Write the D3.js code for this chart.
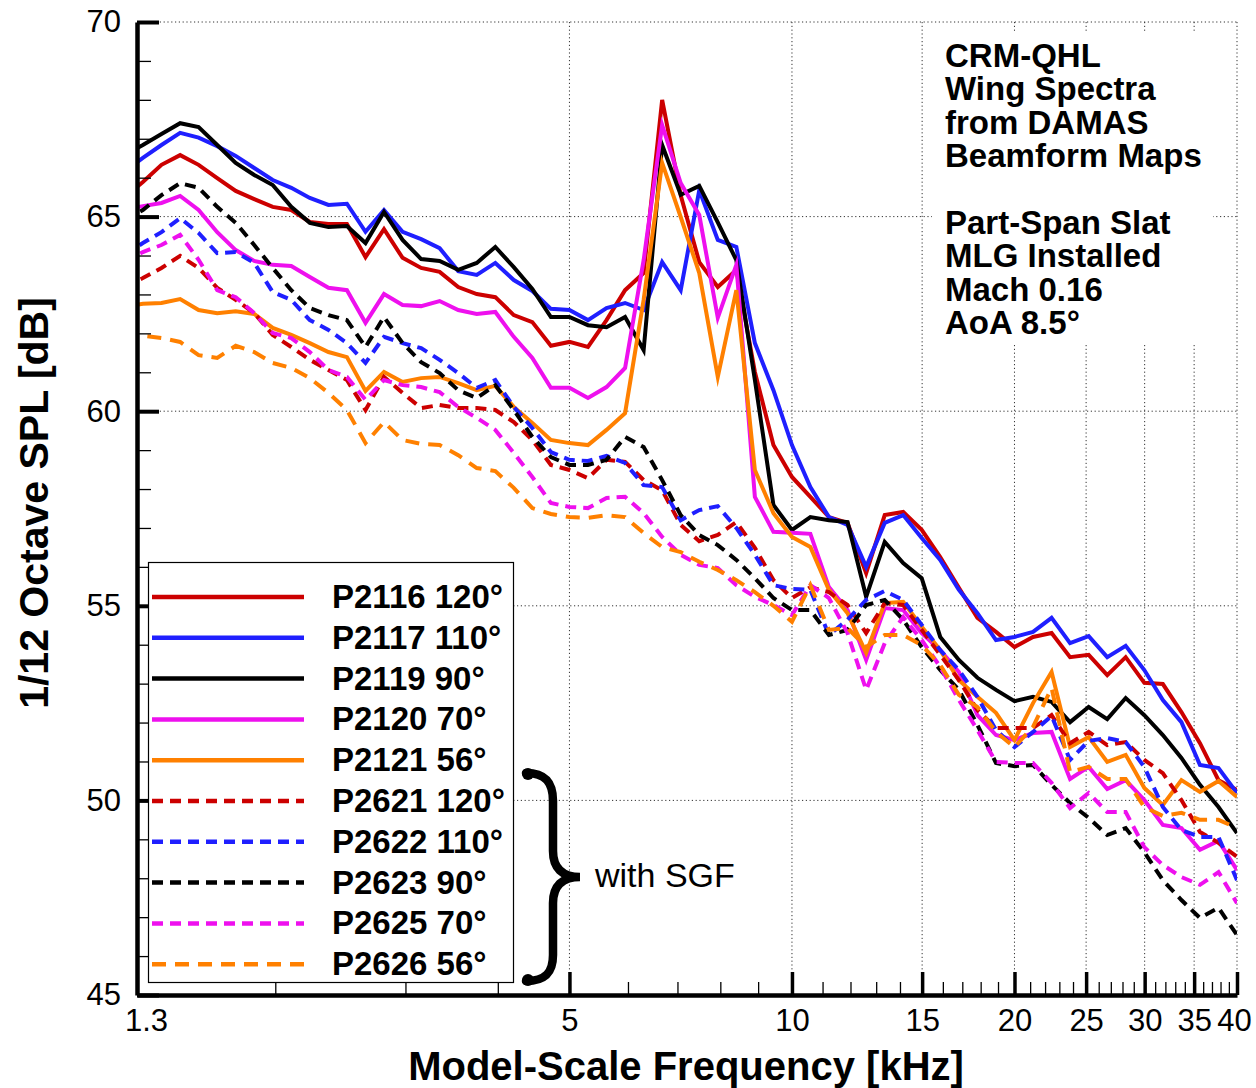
<!DOCTYPE html>
<html>
<head>
<meta charset="utf-8">
<script src="https://cdn.jsdelivr.net/npm/d3@7"></script>
<style>
  html, body { margin: 0; padding: 0; background: #fff; }
  svg { display: block; font-family: "Liberation Sans", Arial, Helvetica, sans-serif; }
</style>
</head>
<body>
<svg id="chart" width="1256" height="1088"></svg>
<script>
// 1/12-octave band centre frequencies [kHz]
const freqKHz = [
  1.25, 1.324, 1.403, 1.487, 1.575, 1.669, 1.768, 1.873, 1.984, 2.102, 2.227, 2.360,
  2.5, 2.649, 2.806, 2.973, 3.150, 3.337, 3.536, 3.746, 3.969, 4.204, 4.454, 4.719,
  5.0, 5.297, 5.612, 5.946, 6.300, 6.674, 7.071, 7.492, 7.937, 8.409, 8.909, 9.439,
  10.0, 10.59, 11.22, 11.89, 12.60, 13.35, 14.14, 14.98, 15.87, 16.82, 17.82, 18.88,
  20.0, 21.19, 22.45, 23.78, 25.20, 26.70, 28.28, 29.97, 31.75, 33.64, 35.64, 37.76,
  40.0
];

// Band levels, 1/12 octave SPL [dB]
const p2116 = [
  65.50, 65.89, 66.33, 66.58, 66.33, 65.99, 65.66, 65.45, 65.25, 65.17, 64.86, 64.81,
  64.81, 63.96, 64.68, 63.94, 63.68, 63.58, 63.19, 63.01, 62.93, 62.47, 62.29, 61.68,
  61.78, 61.65, 62.34, 63.11, 63.55, 68.00, 65.55, 63.83, 63.19, 63.63, 61.01, 59.13,
  58.31, 57.80, 57.28, 57.13, 55.84, 57.33, 57.41, 56.95, 56.25, 55.46, 54.69, 54.33,
  53.94, 54.20, 54.30, 53.68, 53.74, 53.22, 53.68, 53.02, 52.99, 52.27, 51.47, 50.52,
  50.27
];
const p2117 = [
  66.15, 66.51, 66.84, 67.15, 67.03, 66.81, 66.56, 66.25, 65.94, 65.74, 65.48, 65.30,
  65.33, 64.61, 65.17, 64.61, 64.42, 64.19, 63.60, 63.50, 63.81, 63.37, 63.09, 62.63,
  62.60, 62.34, 62.65, 62.78, 62.60, 63.83, 63.11, 65.68, 64.40, 64.22, 61.75, 60.54,
  59.13, 58.05, 57.28, 57.08, 56.00, 57.13, 57.33, 56.74, 56.18, 55.41, 54.81, 54.12,
  54.20, 54.33, 54.69, 54.04, 54.22, 53.68, 53.97, 53.35, 52.58, 52.01, 50.91, 50.83,
  50.19
];
const p2119 = [
  66.58, 66.84, 67.12, 67.40, 67.30, 66.84, 66.38, 66.07, 65.81, 65.25, 64.84, 64.73,
  64.76, 64.32, 65.12, 64.40, 63.91, 63.86, 63.63, 63.81, 64.22, 63.70, 63.14, 62.42,
  62.42, 62.21, 62.16, 62.42, 61.57, 66.84, 65.56, 65.79, 64.85, 63.88, 60.80, 57.59,
  56.95, 57.28, 57.20, 57.15, 55.23, 56.64, 56.10, 55.71, 54.20, 53.61, 53.15, 52.84,
  52.55, 52.66, 52.53, 52.01, 52.40, 52.09, 52.63, 52.19, 51.68, 51.09, 50.40, 49.83,
  49.16
];
const p2120 = [
  65.17, 65.27, 65.35, 65.53, 65.17, 64.60, 64.14, 63.86, 63.76, 63.73, 63.45, 63.17,
  63.11, 62.27, 63.01, 62.73, 62.70, 62.83, 62.60, 62.50, 62.55, 61.91, 61.37, 60.60,
  60.60, 60.34, 60.62, 61.11, 63.88, 67.35, 65.86, 65.04, 62.40, 63.76, 57.80, 56.90,
  56.88, 56.85, 55.48, 54.89, 53.61, 54.94, 54.89, 54.30, 53.86, 53.30, 52.19, 51.68,
  51.55, 51.73, 51.76, 50.55, 50.86, 50.29, 50.52, 50.01, 49.37, 49.29, 48.73, 48.96,
  48.21
];
const p2121 = [
  62.68, 62.76, 62.78, 62.88, 62.60, 62.52, 62.57, 62.50, 62.14, 61.96, 61.75, 61.52,
  61.39, 60.52, 61.01, 60.75, 60.85, 60.88, 60.72, 60.54, 60.65, 60.11, 59.70, 59.26,
  59.18, 59.13, 59.52, 59.95, 62.86, 66.38, 64.99, 63.55, 60.88, 63.11, 58.49, 57.38,
  56.77, 56.51, 55.41, 54.81, 53.79, 55.07, 55.10, 54.46, 53.86, 53.09, 52.66, 52.25,
  51.55, 52.50, 53.30, 51.37, 51.63, 50.99, 51.17, 50.32, 49.88, 50.52, 50.22, 50.50,
  50.09
];
const p2621 = [
  63.19, 63.42, 63.68, 63.99, 63.68, 63.17, 62.86, 62.52, 61.96, 61.65, 61.32, 61.06,
  60.80, 60.03, 60.88, 60.47, 60.08, 60.16, 60.08, 60.08, 60.03, 59.72, 59.26, 58.62,
  58.49, 58.28, 58.75, 58.70, 58.23, 57.97, 57.08, 56.66, 56.82, 57.15, 56.49, 55.66,
  55.20, 55.48, 55.35, 55.02, 54.30, 55.07, 55.02, 54.38, 53.74, 53.09, 52.32, 51.86,
  51.86, 51.86, 52.19, 51.47, 51.76, 51.42, 51.50, 51.04, 50.70, 50.01, 49.19, 48.91,
  48.55
];
const p2622 = [
  64.01, 64.32, 64.60, 64.96, 64.58, 64.06, 64.09, 63.81, 63.06, 62.86, 62.34, 62.09,
  61.75, 61.24, 61.91, 61.75, 61.62, 61.32, 60.98, 60.60, 60.80, 60.11, 59.57, 58.95,
  58.75, 58.72, 58.85, 58.67, 58.10, 58.05, 57.20, 57.46, 57.56, 57.00, 56.31, 55.53,
  55.43, 55.41, 54.25, 54.64, 55.15, 55.38, 55.15, 54.51, 53.86, 53.35, 52.66, 51.81,
  51.37, 51.76, 52.17, 51.04, 51.53, 51.60, 51.50, 50.86, 49.83, 49.24, 49.06, 49.06,
  47.95
];
const p2623 = [
  64.91, 65.17, 65.55, 65.86, 65.74, 65.25, 64.84, 64.27, 63.68, 63.11, 62.65, 62.47,
  62.34, 61.65, 62.42, 61.75, 61.26, 60.98, 60.54, 60.34, 60.67, 60.03, 59.34, 58.82,
  58.62, 58.62, 58.75, 59.34, 59.08, 58.23, 57.33, 56.82, 56.56, 56.18, 55.71, 55.20,
  54.89, 54.89, 54.25, 54.38, 55.02, 55.15, 54.64, 53.94, 53.35, 52.84, 51.94, 50.96,
  50.88, 50.91, 50.40, 49.93, 49.55, 49.11, 49.29, 48.67, 47.95, 47.44, 46.98, 47.24,
  46.54
];
const p2625 = [
  63.83, 64.09, 64.27, 64.53, 63.89, 63.11, 62.93, 62.52, 62.01, 61.88, 61.52, 61.06,
  60.88, 60.29, 60.80, 60.67, 60.62, 60.49, 60.11, 59.83, 59.52, 58.93, 58.31, 57.64,
  57.54, 57.51, 57.77, 57.80, 57.38, 56.77, 56.31, 56.05, 55.97, 55.53, 55.23, 55.02,
  54.76, 55.53, 55.20, 54.30, 52.84, 54.04, 54.71, 54.12, 53.43, 52.58, 51.81, 50.99,
  50.96, 50.96, 50.45, 49.80, 50.19, 49.70, 49.70, 48.80, 48.34, 48.03, 47.83, 48.16,
  47.36
];
const p2626 = [
  61.96, 61.94, 61.88, 61.78, 61.44, 61.37, 61.68, 61.52, 61.24, 61.11, 60.85, 60.47,
  60.03, 59.18, 59.72, 59.26, 59.16, 59.13, 58.87, 58.54, 58.46, 58.03, 57.51, 57.36,
  57.28, 57.26, 57.33, 57.28, 56.87, 56.51, 56.38, 56.13, 55.92, 55.66, 55.35, 55.00,
  54.59, 55.53, 54.38, 54.43, 53.94, 54.25, 54.25, 53.99, 53.48, 52.71, 52.40, 51.76,
  51.37, 51.89, 52.89, 50.73, 50.86, 50.55, 50.55, 49.83, 49.60, 49.68, 49.50, 49.50,
  49.29
];

const seriesLabels = [
  "P2116 120°", "P2117 110°", "P2119 90°", "P2120 70°", "P2121 56°",
  "P2621 120°", "P2622 110°", "P2623 90°", "P2625 70°", "P2626 56°"
];

// Axis ticks and labels
const yMajorTicks = [45, 50, 55, 60, 65, 70];
const yMinorTicks = d3.range(46, 70).filter(v => v % 5 !== 0);
const xLabelTicks = [1.3, 5, 10, 15, 20, 25, 30, 35, 40];
const xTickLabels = ["1.3", "5", "10", "15", "20", "25", "30", "35", "40"];
const xMajorTicks = [5, 10, 15, 20, 25, 30, 35, 40];
const xMinorTicks = [2, 3, 4, 6, 7, 8, 9, 11, 12, 13, 14, 16, 17, 18, 19,
  21, 22, 23, 24, 26, 27, 28, 29, 31, 32, 33, 34, 36, 37, 38, 39];
const yGridValues = [50, 55, 60, 65, 70];
const xGridValues = [5, 10, 15, 20, 25, 30, 35, 40];

const infoLines = ["CRM-QHL", "Wing Spectra", "from DAMAS", "Beamform Maps", "",
  "Part-Span Slat", "MLG Installed", "Mach 0.16", "AoA 8.5°"];

// ---- drawing ----
const svg = d3.select("#chart");
const x = d3.scaleLog().domain([1.3, 40]).range([137, 1237]);
const y = d3.scaleLinear().domain([45, 70]).range([995, 22]);

const seriesData = [p2116, p2117, p2119, p2120, p2121, p2621, p2622, p2623, p2625, p2626];
const styles = [
  { color: "#cc0000", dash: null },
  { color: "#1f1fff", dash: null },
  { color: "#000000", dash: null },
  { color: "#ee10ee", dash: null },
  { color: "#ff8000", dash: null },
  { color: "#cc0000", dash: "11,7" },
  { color: "#1f1fff", dash: "11,7" },
  { color: "#000000", dash: "11,7" },
  { color: "#ee10ee", dash: "11,7" },
  { color: "#ff8000", dash: "14,9" }
];

svg.append("defs").append("clipPath").attr("id", "plotClip")
  .append("rect")
  .attr("x", x(1.3)).attr("y", y(70))
  .attr("width", x(40) - x(1.3)).attr("height", y(45) - y(70));

// dotted grid
const grid = svg.append("g").attr("stroke", "#333").attr("stroke-width", 1)
  .attr("stroke-dasharray", "1.2,2.6");
grid.selectAll("line.gh").data(yGridValues).join("line")
  .attr("x1", x(1.3)).attr("x2", x(40))
  .attr("y1", d => y(d)).attr("y2", d => y(d));
grid.selectAll("line.gv").data(xGridValues).join("line")
  .attr("x1", d => x(d)).attr("x2", d => x(d))
  .attr("y1", y(70)).attr("y2", y(45));

// annotation block (white background hides grid behind it)
svg.append("rect").attr("x", 932).attr("y", 33).attr("width", 281).attr("height", 312)
  .attr("fill", "#fff");
svg.append("g").selectAll("text").data(infoLines).join("text")
  .attr("x", 945)
  .attr("y", (d, i) => 67 + i * 33.4)
  .attr("font-size", 33).attr("font-weight", "bold").attr("fill", "#000")
  .text(d => d);

// spectra
const line = d3.line().x(d => x(d[0])).y(d => y(d[1]));
const plot = svg.append("g").attr("clip-path", "url(#plotClip)");
seriesData.forEach((vals, i) => {
  plot.append("path")
    .datum(freqKHz.map((f, j) => [f, vals[j]]))
    .attr("d", line)
    .attr("fill", "none")
    .attr("stroke", styles[i].color)
    .attr("stroke-width", 4)
    .attr("stroke-linejoin", "miter")
    .attr("stroke-miterlimit", 6)
    .attr("stroke-dasharray", styles[i].dash);
});

// axes
const yMinor = svg.append("g").attr("transform", `translate(${x(1.3)},0)`)
  .call(d3.axisLeft(y).tickValues(yMinorTicks).tickSize(-14).tickFormat(""));
yMinor.select(".domain").remove();
yMinor.selectAll("line").attr("stroke-width", 1.3);

const yMajor = svg.append("g").attr("transform", `translate(${x(1.3)},0)`)
  .call(d3.axisLeft(y).tickValues(yMajorTicks).tickSize(-22).tickSizeOuter(0)
    .tickPadding(16).tickFormat(d3.format("d")));
yMajor.select(".domain").attr("stroke-width", 4.5);
yMajor.selectAll(".tick line").attr("stroke-width", 4);
yMajor.selectAll(".tick text").attr("font-size", 31).attr("font-family", null).attr("fill", "#000");

const xMinor = svg.append("g").attr("transform", `translate(0,${y(45)})`)
  .call(d3.axisBottom(x).tickValues(xMinorTicks).tickSize(-13).tickFormat(""));
xMinor.select(".domain").remove();
xMinor.selectAll("line").attr("stroke-width", 1.3);

const xMajor = svg.append("g").attr("transform", `translate(0,${y(45)})`)
  .call(d3.axisBottom(x).tickValues(xLabelTicks).tickSize(-23).tickSizeOuter(0)
    .tickPadding(14).tickFormat((d, i) => xTickLabels[i]));
xMajor.select(".domain").attr("stroke-width", 4.5);
xMajor.selectAll(".tick line").attr("stroke-width", 3.5)
  .attr("display", d => d === 1.3 ? "none" : null);
xMajor.selectAll(".tick text").attr("font-size", 31).attr("font-family", null).attr("fill", "#000")
  .attr("dx", d => d === 1.3 ? 9 : (d === 40 ? -3 : 0));

// axis titles
svg.append("text")
  .attr("x", 686).attr("y", 1080)
  .attr("text-anchor", "middle").attr("font-size", 40).attr("font-weight", "bold")
  .text("Model-Scale Frequency [kHz]");
svg.append("text")
  .attr("transform", "translate(48,503) rotate(-90)")
  .attr("text-anchor", "middle").attr("font-size", 41).attr("font-weight", "bold")
  .text("1/12 Octave SPL [dB]");

// legend
const legend = svg.append("g");
legend.append("rect").attr("x", 148.5).attr("y", 562.5).attr("width", 365).attr("height", 420)
  .attr("fill", "#fff").attr("stroke", "#000").attr("stroke-width", 1.2);
const rows = legend.selectAll("g.row").data(seriesLabels).join("g")
  .attr("transform", (d, i) => `translate(0,${597 + i * 40.8})`);
rows.append("line")
  .attr("x1", 152).attr("x2", 304).attr("y1", 0).attr("y2", 0)
  .attr("stroke", (d, i) => styles[i].color)
  .attr("stroke-width", 4.5)
  .attr("stroke-dasharray", (d, i) => styles[i].dash);
rows.append("text")
  .attr("x", 332).attr("y", 11)
  .attr("font-size", 33).attr("font-weight", "bold")
  .text(d => d);

// brace grouping the SGF cases
svg.append("path")
  .attr("d", "M526,773 C546,773 553,783 553,801 L553,851 C553,868 562,877 580,877 C562,877 553,886 553,903 L553,955 C553,972 546,981 526,981")
  .attr("fill", "none").attr("stroke", "#000").attr("stroke-width", 8.5)
  .attr("stroke-linecap", "round");
svg.append("circle").attr("cx", 528).attr("cy", 774).attr("r", 6).attr("fill", "#000");
svg.append("circle").attr("cx", 528).attr("cy", 980).attr("r", 6).attr("fill", "#000");
svg.append("text")
  .attr("x", 595).attr("y", 887)
  .attr("font-size", 34)
  .text("with SGF");
</script>
</body>
</html>
